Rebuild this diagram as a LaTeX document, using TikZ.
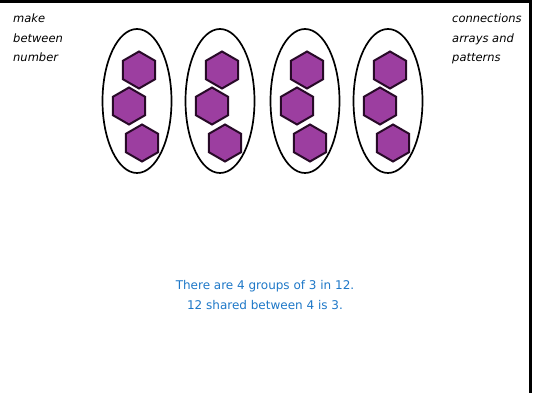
\documentclass[tikz,border=0pt]{standalone}
\usepackage{fontspec}
\setmainfont{DejaVu Sans}
\usetikzlibrary{shapes.geometric}
\definecolor{hexfill}{RGB}{156,62,160}
\definecolor{hexline}{RGB}{40,10,40}
\definecolor{txtblue}{RGB}{30,120,200}
\tikzset{
  grp/.style={draw=black,line width=1.7pt,ellipse,minimum width=69pt,minimum height=144pt,inner sep=0pt},
  hexa/.style={draw=hexline,fill=hexfill,line width=2pt,regular polygon,regular polygon sides=6,minimum size=37pt,inner sep=0pt,rotate=30},
  side/.style={font=\fontsize{11.5}{19.5}\selectfont\itshape,align=left,anchor=north west,inner sep=0pt},
  msg/.style={font=\fontsize{12}{20}\selectfont,text=txtblue,align=center,inner sep=0pt}
}
\begin{document}
\begin{tikzpicture}[x=1pt,y=-1pt]
\useasboundingbox (0,0) rectangle (533,393);
\fill[white] (0,0) rectangle (533,393);
\draw[line width=3pt] (0,1.5) -- (530.5,1.5) -- (530.5,393);
\foreach \i/\cx in {1/137,2/220,3/305,4/388}{
  \node[grp] (g\i) at (\cx,101) {};
  \node[hexa] (h\i a) at (\cx+2,70) {};
  \node[hexa] (h\i b) at (\cx-8,106) {};
  \node[hexa] (h\i c) at (\cx+5,143) {};
}
\node[side] (lt) at (13,14) {make\\between\\number};
\node[side] (rt) at (452,14) {connections\\arrays and\\patterns};
\node[msg] (m) at (265,295) {There are 4 groups of 3 in 12.\\12 shared between 4 is 3.};
\end{tikzpicture}
\end{document}
